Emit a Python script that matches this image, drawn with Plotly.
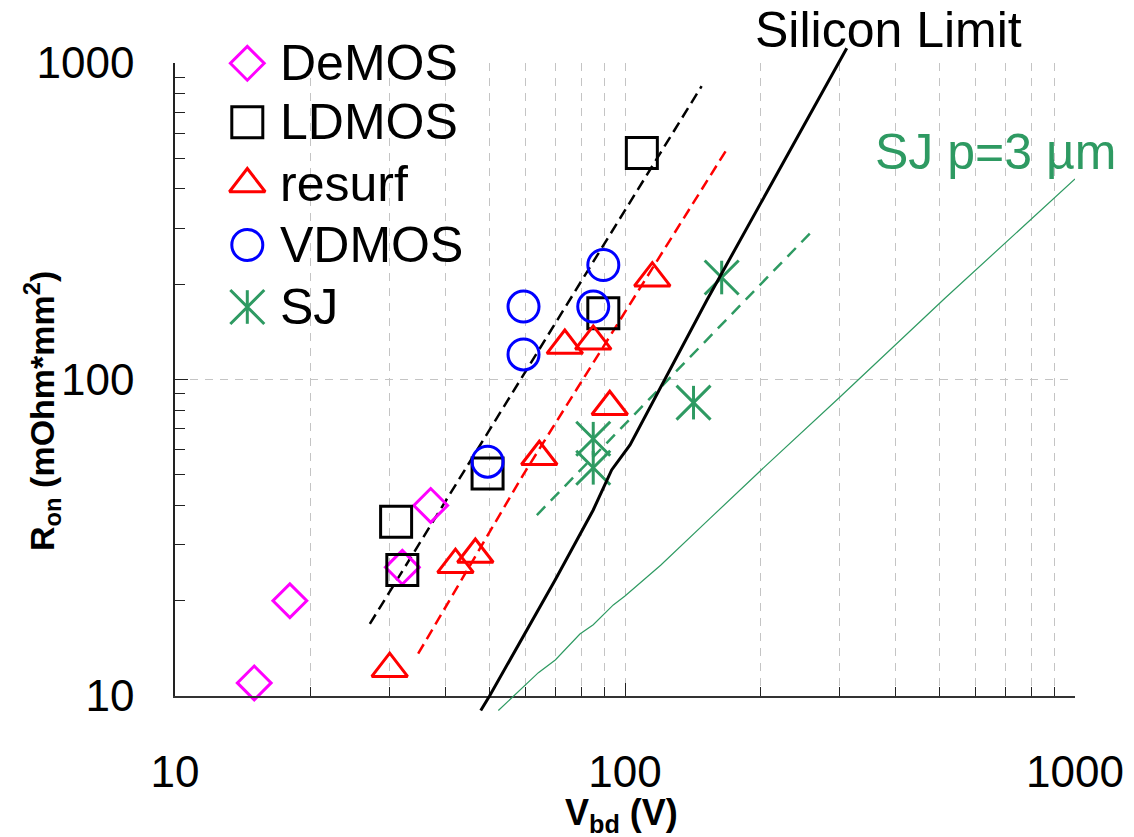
import plotly.graph_objects as go

W, H = 1134, 837

# ---------------- data ----------------
demos_v = [15, 18, 32, 37]
demos_r = [11, 20, 25.5, 40]
ldmos_v = [31, 32, 49.5, 89.5, 109]
ldmos_r = [35.5, 25, 50.5, 162, 520]
resurf_v = [30, 42, 46.5, 64.5, 73.5, 85, 92.5, 115]
resurf_r = [12.2, 26, 28, 57, 128, 132, 82, 209]
vdmos_v = [49.5, 59.5, 59.5, 85, 89.5]
vdmos_r = [55, 120, 170, 170, 230]
sj_v = [85, 85, 142, 164]
sj_r = [52.6, 65, 84.5, 210]

ldmos_fit_v = [27.1, 148]
ldmos_fit_r = [16.9, 845]
resurf_fit_v = [34.7, 59.4, 168]
resurf_fit_r = [13.6, 50, 531]
sj_fit_v = [63.7, 258]
sj_fit_r = [37.3, 290]

si_limit_v = [47.8, 50, 70, 85, 93.4, 102.6, 152, 311]
si_limit_r = [9.0, 10.0, 23.3, 38.7, 51.8, 62.1, 178, 1113]

sj3_v = [52.3, 57.4, 64.2, 70, 79.4, 85, 94.2, 100, 120, 154.5, 200, 300, 398, 514, 1000]
sj3_r = [9.0, 10.2, 11.85, 13.0, 15.7, 16.8, 19.4, 20.7, 25.9, 36.4, 51.5, 87.9, 127.9, 180.6, 430]

major_ticks = [10, 100, 1000]
major_labels = ["10", "100", "1000"]
minor_ticks = [20, 30, 40, 50, 60, 70, 80, 90, 200, 300, 400, 500, 600, 700, 800, 900]

legend_names = ["DeMOS", "LDMOS", "resurf", "VDMOS", "SJ"]
silicon_label = "Silicon Limit"
sj3_label = "SJ p=3 µm"
x_title = "<b>V<sub>bd</sub> (V)</b>"
y_title = "<b>R<sub>on</sub> (mOhm*mm<sup>2</sup>)</b>"

# ---------------- style ----------------
FONT = "Liberation Sans, Arial, sans-serif"
MAGENTA = "#FF00FF"
RED = "#FF0000"
BLUE = "#0000FF"
GREEN = "#2E9A62"
GRID = "#C4C4C4"

# plot-area pixel geometry
PX_L, PX_R, PX_T, PX_B = 175, 1075, 63, 696
EXT_T, EXT_B = 40, 720            # extended area for lines overshooting
DEC_Y = (PX_B - PX_T) / 2.0       # px per decade vertically

def fx(px):
    return px / W

def fy(py):
    return 1 - py / H

fig = go.Figure()

mk_line = 3
SIZES = {"diamond-open": 26, "square-open": 31, "triangle-up-open": 31,
         "circle-open": 31, "x-thin-open": 34, "line-ns-open": 24}

def pts(v, r, symbol, color, name):
    fig.add_trace(go.Scatter(
        x=v, y=r, mode="markers", name=name, showlegend=False,
        marker=dict(symbol=symbol, size=SIZES[symbol], color=color,
                    line=dict(color=color, width=mk_line)),
        cliponaxis=False))

# fitted dashed lines
fig.add_trace(go.Scatter(x=ldmos_fit_v, y=ldmos_fit_r, mode="lines", showlegend=False,
                         line=dict(color="black", width=2.5, dash="11px,6px")))
fig.add_trace(go.Scatter(x=resurf_fit_v, y=resurf_fit_r, mode="lines", showlegend=False,
                         line=dict(color=RED, width=2.5, dash="11px,6px")))
fig.add_trace(go.Scatter(x=sj_fit_v, y=sj_fit_r, mode="lines", showlegend=False,
                         line=dict(color=GREEN, width=2.5, dash="12px,8px")))

pts(demos_v, demos_r, "diamond-open", MAGENTA, legend_names[0])
pts(ldmos_v, ldmos_r, "square-open", "black", legend_names[1])
pts(resurf_v, resurf_r, "triangle-up-open", RED, legend_names[2])
pts(vdmos_v, vdmos_r, "circle-open", BLUE, legend_names[3])
pts(sj_v, sj_r, "x-thin-open", GREEN, legend_names[4])
pts(sj_v, sj_r, "line-ns-open", GREEN, legend_names[4])

# lines that overshoot the frame: drawn on an extended twin pair of axes
fig.add_trace(go.Scatter(x=si_limit_v, y=si_limit_r, mode="lines", showlegend=False,
                         xaxis="x2", yaxis="y2", line=dict(color="black", width=3)))
fig.add_trace(go.Scatter(x=sj3_v, y=sj3_r, mode="lines", showlegend=False,
                         xaxis="x2", yaxis="y2", line=dict(color=GREEN, width=1.2)))

# manual legend (pixel-coordinate overlay axes)
leg_x = 247.3
leg_y = [63.3, 122.3, 184, 245, 307]
leg_sym = ["diamond-open", "square-open", "triangle-up-open", "circle-open", "x-thin-open"]
leg_col = [MAGENTA, "black", RED, BLUE, GREEN]
for i in range(5):
    fig.add_trace(go.Scatter(x=[leg_x], y=[leg_y[i]], mode="markers", showlegend=False,
                             xaxis="x3", yaxis="y3", cliponaxis=False,
                             marker=dict(symbol=leg_sym[i], size=SIZES[leg_sym[i]], color=leg_col[i],
                                         line=dict(color=leg_col[i], width=mk_line))))
fig.add_trace(go.Scatter(x=[leg_x], y=[leg_y[4]], mode="markers", showlegend=False,
                         xaxis="x3", yaxis="y3", cliponaxis=False,
                         marker=dict(symbol="line-ns-open", size=SIZES["line-ns-open"], color=GREEN,
                                     line=dict(color=GREEN, width=mk_line))))

annotations = []
for i, nm in enumerate(legend_names):
    annotations.append(dict(x=278, y=leg_y[i], xref="x3", yref="y3", text=nm,
                            showarrow=False, xanchor="left", yanchor="middle",
                            font=dict(family=FONT, size=50, color="black")))
annotations.append(dict(x=888, y=30, xref="x3", yref="y3", text=silicon_label,
                        showarrow=False, xanchor="center", yanchor="middle",
                        font=dict(family=FONT, size=50, color="black")))
annotations.append(dict(x=873, y=152, xref="x3", yref="y3", text=sj3_label,
                        showarrow=False, xanchor="left", yanchor="middle",
                        font=dict(family=FONT, size=50, color=GREEN)))
annotations.append(dict(x=621, y=815, xref="x3", yref="y3", text=x_title,
                        showarrow=False, xanchor="center", yanchor="middle",
                        font=dict(family=FONT, size=36, color="black")))
annotations.append(dict(x=42, y=411, xref="x3", yref="y3", text=y_title, textangle=-90,
                        showarrow=False, xanchor="center", yanchor="middle",
                        font=dict(family=FONT, size=34, color="black")))

xdom = [fx(PX_L), fx(PX_R)]
ydom = [fy(PX_B), fy(PX_T)]
ydom2 = [fy(EXT_B), fy(EXT_T)]
y2_lo = 1 - (EXT_B - PX_B) / DEC_Y
y2_hi = 3 + (PX_T - EXT_T) / DEC_Y

hidden = dict(visible=False, showgrid=False, zeroline=False, automargin=False)

fig.update_layout(
    template="none",
    width=W, height=H,
    margin=dict(l=0, r=0, t=0, b=0, pad=0, autoexpand=False),
    paper_bgcolor="white", plot_bgcolor="rgba(0,0,0,0)",
    showlegend=False,
    font=dict(family=FONT, color="black"),
    annotations=annotations,
    xaxis=dict(type="log", range=[1, 3], domain=xdom, anchor="y", automargin=False,
               tickmode="array", tickvals=major_ticks, ticktext=major_labels,
               tickfont=dict(size=44, family=FONT, color="black"),
               ticks="inside", ticklen=13, tickwidth=1.3, tickcolor="#222",
               showline=True, linecolor="#333", linewidth=1.5, mirror=False,
               showgrid=True, gridcolor=GRID, gridwidth=1.2, griddash="8px,7px",
               zeroline=False, ticklabelstandoff=36,
               minor=dict(tickmode="array", tickvals=minor_ticks, ticks="inside",
                          ticklen=9, tickwidth=1.2, tickcolor="#222",
                          showgrid=True, gridcolor=GRID, gridwidth=1.2, griddash="8px,7px")),
    yaxis=dict(type="log", range=[1, 3], domain=ydom, anchor="x", automargin=False,
               tickmode="array", tickvals=major_ticks, ticktext=major_labels,
               tickfont=dict(size=44, family=FONT, color="black"),
               ticks="inside", ticklen=13, tickwidth=1.3, tickcolor="#222",
               showline=True, linecolor="#222", linewidth=1.5, mirror=False,
               showgrid=True, gridcolor=GRID, gridwidth=1.2, griddash="8px,7px",
               zeroline=False, ticklabelstandoff=30,
               minor=dict(tickmode="array", tickvals=minor_ticks, ticks="inside",
                          ticklen=10, tickwidth=1.2, tickcolor="#222", showgrid=False)),
    xaxis2=dict(type="log", range=[1, 3], domain=xdom, anchor="y2", **hidden),
    yaxis2=dict(type="log", range=[y2_lo, y2_hi], domain=ydom2, anchor="x2", **hidden),
    xaxis3=dict(range=[0, W], domain=[0, 1], anchor="y3", **hidden),
    yaxis3=dict(range=[H, 0], domain=[0, 1], anchor="x3", **hidden),
)

fig.write_html("out.html")
